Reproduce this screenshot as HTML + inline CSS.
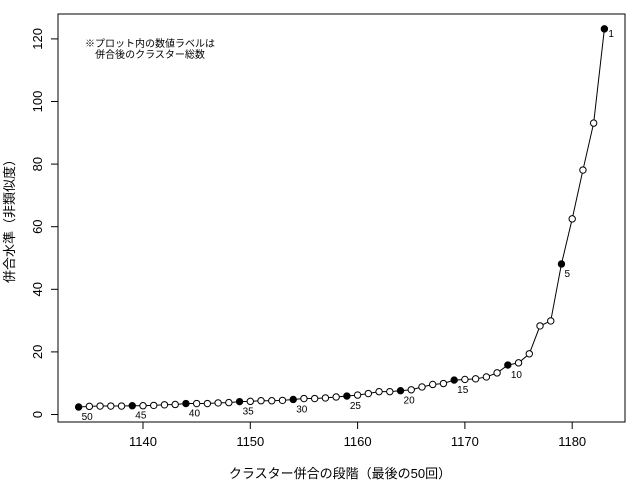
<!DOCTYPE html>
<html><head><meta charset="utf-8"><style>
body{margin:0;background:#fff}
svg text{font-family:"Liberation Sans","Noto Sans CJK JP",sans-serif;fill:#000}
</style></head><body>
<svg width="640" height="480" viewBox="0 0 640 480">
<rect x="58" y="14" width="567" height="408" fill="none" stroke="#000" stroke-width="1"/>
<g id="axes"></g>
<g id="marks"></g>
<text x="150" y="47" font-size="10" text-anchor="middle">※プロット内の数値ラベルは</text>
<text x="150" y="58" font-size="10" text-anchor="middle">併合後のクラスター総数</text>
<text x="340" y="478" font-size="13" text-anchor="middle">クラスター併合の段階（最後の50回）</text>
<text x="14" y="218" font-size="13" text-anchor="middle" transform="rotate(-90 14 218)">併合水準（非類似度）</text>
</svg>
<script>
const steps=[];for(let s=1134;s<=1183;s++)steps.push(s);
const heights=[2.4,2.6,2.7,2.7,2.7,2.8,2.8,2.9,3.1,3.2,3.5,3.5,3.5,3.7,3.8,4.1,4.2,4.4,4.4,4.5,4.8,5.1,5.1,5.3,5.6,5.9,6.2,6.7,7.3,7.3,7.6,7.9,8.8,9.6,9.9,11.0,11.2,11.4,12.0,13.3,15.8,16.5,19.4,28.3,29.9,48.1,62.5,78.1,93.1,123.2];
const xTicks=[1140,1150,1160,1170,1180];
const yTicks=[0,20,40,60,80,100,120];
const NS="http://www.w3.org/2000/svg";
const xs=v=>143+(v-1140)*10.73;
const ys=v=>414.5-v*3.13;
const ax=document.getElementById('axes'),mk=document.getElementById('marks');
function el(t,a,p){const e=document.createElementNS(NS,t);for(const k in a)e.setAttribute(k,a[k]);p.appendChild(e);return e;}
xTicks.forEach(t=>{
 const l=el('line',{x1:xs(t),x2:xs(t),y1:422,y2:429,stroke:'#000'},ax);
 
 
 const tx=el('text',{x:xs(t),y:446,'font-size':13,'text-anchor':'middle'},ax);tx.textContent=t;
 
 
});
yTicks.forEach(t=>{
 const l=el('line',{x1:51,x2:58,y1:ys(t),y2:ys(t),stroke:'#000'},ax);
 
 
 const tx=el('text',{x:42,y:ys(t),'font-size':13,'text-anchor':'middle',transform:`rotate(-90 42 ${ys(t)})`},ax);tx.textContent=t;
 
 
});
const pts=steps.map((s,i)=>xs(s)+','+ys(heights[i])).join(' ');
const pl=el('polyline',{points:pts,fill:'none',stroke:'#000','stroke-width':1},mk);


steps.forEach((s,i)=>{
 const k=steps.length-i;
 const filled=(k===1||k%5===0);
 const c=el('circle',{cx:xs(s),cy:ys(heights[i]),r:3.2,fill:filled?'#000':'#fff',stroke:'#000','stroke-width':1},mk);
 
 
 if(filled){
  const tx=el('text',{x:xs(s)+(k===1?4:3),y:ys(heights[i])+(k===1?8:13),'font-size':10},mk);tx.textContent=k;
  
  
 }
});
</script>
</body></html>
